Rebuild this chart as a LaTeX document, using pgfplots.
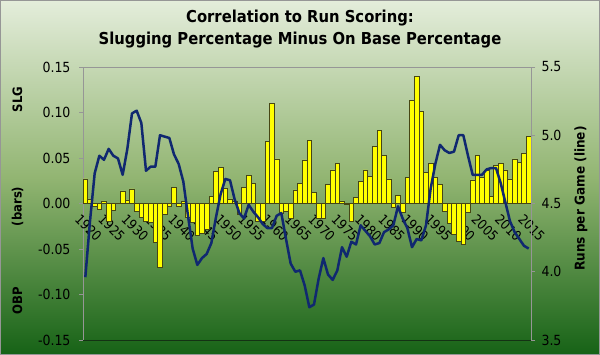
\documentclass[border=0pt]{standalone}
\usepackage{fontspec}
\setmainfont{DejaVu Sans}[FakeStretch=0.9]
\usepackage{pgfplots}
\usepackage{pgfplotstable}
\pgfplotsset{compat=1.18}
\definecolor{bgtop}{RGB}{228,237,219}
\definecolor{bgmid}{RGB}{146,181,114}
\definecolor{bgbot}{RGB}{22,98,22}
\definecolor{barfill}{RGB}{255,255,0}
\definecolor{baredge}{RGB}{70,70,20}
\definecolor{linecol}{RGB}{16,40,112}
\definecolor{axgray}{RGB}{150,150,150}
\definecolor{botline}{RGB}{20,50,20}
\pgfplotstableread{
i bar runs
0 0.027 3.96
1 0.005 4.37
2 -0.003 4.72
3 -0.006 4.85
4 0.003 4.82
5 -0.020 4.90
6 -0.007 4.85
7 0.000 4.83
8 0.014 4.71
9 0.004 4.90
10 0.016 5.16
11 -0.009 5.18
12 -0.015 5.09
13 -0.019 4.74
14 -0.021 4.77
15 -0.043 4.77
16 -0.070 5.00
17 -0.012 4.99
18 -0.003 4.98
19 0.018 4.86
20 -0.003 4.79
21 0.002 4.66
22 -0.015 4.41
23 -0.021 4.17
24 -0.035 4.05
25 -0.033 4.10
26 -0.028 4.13
27 0.008 4.21
28 0.035 4.40
29 0.040 4.57
30 0.017 4.68
31 0.005 4.67
32 0.003 4.53
33 -0.012 4.43
34 0.018 4.39
35 0.031 4.49
36 0.022 4.44
37 -0.019 4.40
38 -0.019 4.35
39 0.068 4.32
40 0.110 4.32
41 0.049 4.41
42 -0.011 4.43
43 -0.008 4.24
44 -0.016 4.06
45 0.015 4.00
46 0.022 4.01
47 0.048 3.90
48 0.069 3.74
49 0.012 3.76
50 -0.016 3.95
51 -0.016 4.10
52 0.021 3.98
53 0.037 3.94
54 0.044 4.01
55 0.003 4.18
56 -0.001 4.11
57 -0.019 4.22
58 0.007 4.20
59 0.024 4.34
60 0.037 4.30
61 0.030 4.26
62 0.063 4.20
63 0.080 4.21
64 0.053 4.29
65 0.027 4.31
66 -0.004 4.34
67 0.009 4.48
68 -0.010 4.39
69 0.029 4.32
70 0.113 4.18
71 0.140 4.24
72 0.101 4.23
73 0.034 4.34
74 0.044 4.61
75 0.029 4.79
76 0.021 4.93
77 -0.008 4.89
78 -0.022 4.87
79 -0.034 4.88
80 -0.041 5.00
81 -0.045 5.00
82 -0.010 4.85
83 0.026 4.71
84 0.053 4.71
85 0.029 4.71
86 0.036 4.75
87 0.008 4.76
88 0.042 4.76
89 0.044 4.65
90 0.037 4.51
91 0.027 4.37
92 0.049 4.29
93 0.045 4.24
94 0.055 4.19
95 0.074 4.17
}\datatable
\begin{document}
\begin{tikzpicture}
\useasboundingbox (0,0) rectangle (600bp,355bp);
\shade[top color=bgtop, bottom color=bgbot, middle color=bgmid] (0,0) rectangle (600bp,355bp);
\draw[axgray, line width=1bp] (0.5bp,0.5bp) rectangle (599.5bp,354.5bp);
\node[font=\bfseries\fontsize{16.5}{23}\selectfont, align=center] at (300bp,326bp)
  {Correlation to Run Scoring:\\Slugging Percentage Minus On Base Percentage};
\begin{axis}[
  at={(83bp,15bp)}, anchor=south west,
  scale only axis, width=448bp, height=273bp,
  xmin=-0.5, xmax=95.5, ymin=-0.15, ymax=0.15,
  axis y line*=left, axis x line*=middle,
  axis line style={-, axgray, line width=0.8bp},
  xtick={0,5,...,95},
  xticklabels={1920,1925,1930,1935,1940,1945,1950,1955,1960,1965,1970,1975,1980,1985,1990,1995,2000,2005,2010,2015},
  xtick style={draw=none},
  xticklabel style={rotate=-45, anchor=north west, font=\fontsize{13.5}{14}\selectfont, inner sep=1bp, yshift=-6bp},
  ytick={-0.15,-0.10,-0.05,0,0.05,0.10,0.15},
  yticklabels={-0.15,-0.10,-0.05,0.00,0.05,0.10,0.15},
  yticklabel style={font=\fontsize{14}{16}\selectfont, xshift=-5bp},
  ytick style={axgray, line width=0.8bp},
  tick align=outside, major tick length=4bp,
  clip=false,
]
\addplot[ybar, bar width=1, bar shift=0pt, fill=barfill, draw=baredge, line width=0.5bp] table[x=i, y=bar] {\datatable};
\draw[axgray, line width=0.8bp] (rel axis cs:0,1) -- (rel axis cs:1,1);
\draw[botline, line width=1bp] (rel axis cs:0,0) -- (rel axis cs:1,0);
\end{axis}
\begin{axis}[
  at={(83bp,15bp)}, anchor=south west,
  scale only axis, width=448bp, height=273bp,
  xmin=-0.5, xmax=95.5, ymin=3.5, ymax=5.5,
  axis y line*=right, axis x line=none,
  axis line style={-, axgray, line width=0.8bp},
  ytick={3.5,4.0,4.5,5.0,5.5},
  yticklabels={3.5,4.0,4.5,5.0,5.5},
  yticklabel style={font=\fontsize{14}{16}\selectfont, xshift=3bp},
  ytick style={axgray, line width=0.8bp},
  tick align=outside, major tick length=4bp,
]
\addplot[linecol, line width=2.5bp, mark=none, line join=round] table[x=i, y=runs] {\datatable};
\end{axis}
\node[rotate=90, font=\bfseries\fontsize{13.5}{15}\selectfont] at (581bp,156.5bp) {Runs per Game (line)};
\node[rotate=90, font=\bfseries\fontsize{13}{15}\selectfont] at (17.5bp,255.5bp) {SLG};
\node[rotate=90, font=\bfseries\fontsize{13}{15}\selectfont] at (17.5bp,148.5bp) {(bars)};
\node[rotate=90, font=\bfseries\fontsize{13}{15}\selectfont] at (17.5bp,54.5bp) {OBP};
\end{tikzpicture}
\end{document}
